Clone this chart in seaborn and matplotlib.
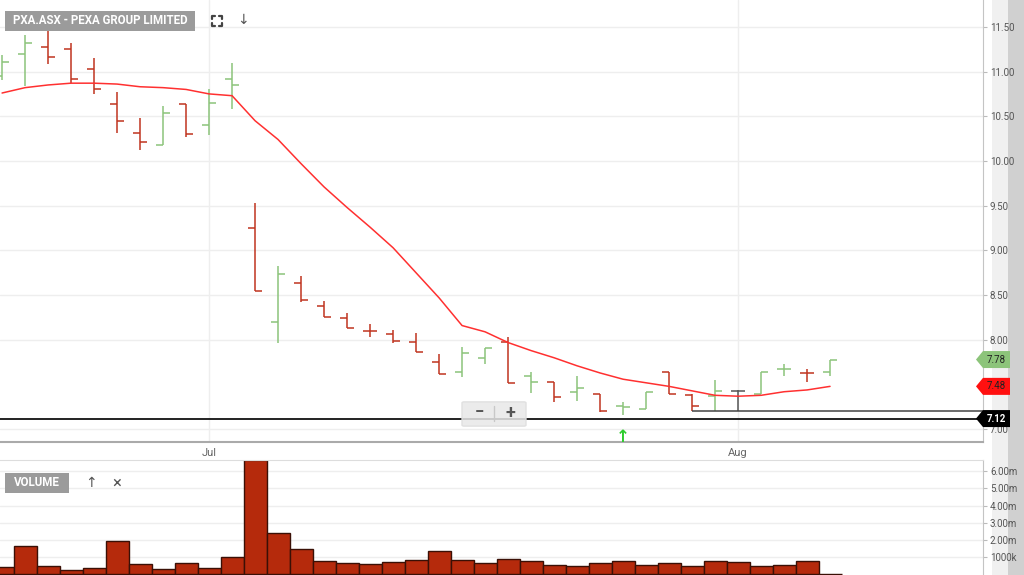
import matplotlib
matplotlib.use('Agg')
import matplotlib.pyplot as plt
import pandas as pd
import seaborn as sns
from matplotlib.patches import Polygon, FancyBboxPatch
from matplotlib.transforms import blended_transform_factory

# daily bars, 18 Jun 2024 .. 7 Aug 2024
dates = pd.bdate_range('2024-06-18', periods=37)
opens = [10.95, 11.20, 11.28, 11.25, 11.03, 10.64, 10.31, 10.18, 10.64, 10.40,
         10.92, 9.25, 8.20, 8.64, 8.38, 8.25, 8.10, 8.07, 7.98, 7.75,
         7.64, 7.80, 7.98, 7.60, 7.53, 7.42, 7.39, 7.26, 7.23, 7.64,
         7.38, 7.37, 7.43, 7.39, 7.67, 7.63, 7.64]
highs = [11.19, 11.41, 11.50, 11.32, 11.15, 10.77, 10.48, 10.62, 10.64, 10.80,
         11.10, 9.53, 8.83, 8.71, 8.44, 8.30, 8.18, 8.11, 8.08, 7.84,
         7.92, 7.91, 8.03, 7.64, 7.53, 7.60, 7.39, 7.31, 7.42, 7.64,
         7.39, 7.55, 7.44, 7.64, 7.73, 7.67, 7.78]
lows = [10.91, 10.84, 11.09, 10.87, 10.75, 10.31, 10.12, 10.18, 10.27, 10.29,
        10.58, 8.55, 7.97, 8.42, 8.26, 8.13, 8.03, 7.97, 7.86, 7.62,
        7.59, 7.73, 7.52, 7.41, 7.31, 7.32, 7.19, 7.16, 7.23, 7.39,
        7.20, 7.20, 7.20, 7.39, 7.60, 7.53, 7.60]
closes = [11.11, 11.32, 11.16, 10.92, 10.81, 10.45, 10.21, 10.54, 10.30, 10.65,
          10.85, 8.55, 8.74, 8.45, 8.26, 8.13, 8.10, 7.99, 7.86, 7.62,
          7.85, 7.91, 7.52, 7.53, 7.36, 7.46, 7.20, 7.25, 7.42, 7.39,
          7.26, 7.43, 7.43, 7.64, 7.67, 7.63, 7.78]
sma = [10.76, 10.82, 10.85, 10.87, 10.87, 10.86, 10.83, 10.82, 10.80, 10.75,
       10.73, 10.45, 10.24, 9.97, 9.71, 9.48, 9.26, 9.03, 8.75, 8.47,
       8.16, 8.09, 7.97, 7.88, 7.80, 7.71, 7.63, 7.56, 7.52, 7.48,
       7.43, 7.38, 7.37, 7.38, 7.42, 7.44, 7.48]
volume_m = [0.43, 1.65, 0.49, 0.26, 0.37, 1.94, 0.61, 0.32, 0.66, 0.37,
            1.01, 6.62, 2.40, 1.47, 0.78, 0.66, 0.61, 0.72, 0.84, 1.36,
            0.84, 0.66, 0.90, 0.78, 0.55, 0.49, 0.66, 0.78, 0.55, 0.66,
            0.49, 0.78, 0.72, 0.49, 0.55, 0.78, 0.03]

price_ticks = [7.0, 8.0, 8.5, 9.0, 9.5, 10.0, 10.5, 11.0, 11.5]
vol_ticks = [1, 2, 3, 4, 5, 6]
vol_labels = ['1000k', '2.00m', '3.00m', '4.00m', '5.00m', '6.00m']
month_labels = ['Jul', 'Aug']
hline_level = 7.12
support_level = 7.20
support_start = 30
signal_bar = 27

W, H = 1024, 575
GREEN = '#8cc47a'
RED = '#c0341f'
GREY = '#555555'

sns.set_style('white')
plt.rcParams['font.family'] = ['Roboto', 'DejaVu Sans']

df = pd.DataFrame({'date': dates, 'open': opens, 'high': highs, 'low': lows,
                   'close': closes, 'sma': sma, 'volume': volume_m})
df['i'] = range(len(df))
prev = [opens[0]] + closes[:-1]
colors = [GREEN if c > p else (RED if c < p else GREY) for c, p in zip(closes, prev)]
month_pos = [df.index[(df.date.dt.month == m)][0] for m in (7, 8)]


def fx(px):
    return px / W


def fy(py):
    return 1 - py / H


fig = plt.figure(figsize=(W / 100, H / 100), dpi=100)
fig.patch.set_facecolor('white')

# grey shade at the right edge
bg = fig.add_axes([fx(992), 0, fx(W - 992), 1], zorder=-5)
bg.imshow([[0, 1]], cmap=sns.light_palette('#d0d0d0', as_cmap=True), aspect='auto',
          extent=[0, 1, 0, 1])
bg.axis('off')

ax = fig.add_axes([0, fy(442), fx(983), 442 / H])
axv = fig.add_axes([0, 0, fx(983), 115 / H])
xlim = (-0.09, 42.65)

# price panel
ax.vlines(df.i, df.low, df.high, colors=colors, lw=1.1)
ax.hlines(df.open, df.i - 0.3, df.i, colors=colors, lw=1.1)
ax.hlines(df.close, df.i, df.i + 0.3, colors=colors, lw=1.1)
sns.lineplot(data=df, x='i', y='sma', color='#ff3030', lw=1.1, ax=ax)
ax.axhline(hline_level, color='#222222', lw=1.4)
ax.hlines(support_level, support_start, xlim[1], color='#444444', lw=1.1)
ax.set_xlim(*xlim)
ax.set_ylim(6.858, 11.80)
ax.set_yticks(price_ticks)
ax.set_yticklabels([f'{t:.2f}' for t in price_ticks])
ax.yaxis.tick_right()
ax.set_xticks(month_pos)
ax.set_xticklabels(month_labels)
ax.tick_params(axis='y', length=3, color='#bbbbbb', labelsize=7, labelcolor='#555555', pad=2)
ax.tick_params(axis='x', direction='in', length=3, color='#999999', labelsize=8,
               labelcolor='#666666', pad=4)
ax.grid(True, color='#eeeeee', lw=1)
ax.set_xlabel('')
ax.set_ylabel('')
for s in ('top', 'left'):
    ax.spines[s].set_visible(False)
ax.spines['right'].set_color('#c4c4c4')
ax.spines['bottom'].set_color('#aaaaaa')
ax.spines['bottom'].set_linewidth(1.5)

# price tags on the right axis
tr = blended_transform_factory(ax.transAxes, ax.transData)
hh = 8.5 / 89.4
for val, fc, tc, bold in [(closes[-1], GREEN, '#222222', False),
                          (sma[-1], '#ff1010', '#222222', False),
                          (hline_level, '#000000', 'white', True)]:
    x0, x1, x2 = 976 / 983, 983 / 983, 1010 / 983
    pts = [(x0, val), (x1, val + hh), (x2, val + hh), (x2, val - hh), (x1, val - hh)]
    ax.add_patch(Polygon(pts, closed=True, transform=tr, fc=fc, ec='none',
                         clip_on=False, zorder=5))
    ax.text(996 / 983, val, f'{val:.2f}', transform=tr, ha='center', va='center',
            fontsize=7, color=tc, fontweight='bold' if bold else 'normal',
            clip_on=False, zorder=6)

# volume panel
sns.barplot(data=df, x='i', y='volume', native_scale=True, width=1.0, color='#b52a0c',
            saturation=1, edgecolor='#3a1006', linewidth=1, ax=axv)
axv.set_xlim(*xlim)
axv.set_ylim(-0.03, 6.64)
axv.set_yticks(vol_ticks)
axv.set_yticklabels(vol_labels)
axv.yaxis.tick_right()
axv.set_xticks([])
axv.tick_params(axis='y', length=3, color='#bbbbbb', labelsize=7, labelcolor='#555555', pad=2)
axv.grid(True, axis='y', color='#eeeeee', lw=1)
axv.set_xlabel('')
axv.set_ylabel('')
for s in ('left', 'bottom'):
    axv.spines[s].set_visible(False)
axv.spines['right'].set_color('#c4c4c4')
axv.spines['top'].set_color('#dddddd')


def tag(x0, y0, w, h, text):
    fig.patches.append(FancyBboxPatch((fx(x0), fy(y0 + h)), fx(w), h / H,
                                      boxstyle='square,pad=0', transform=fig.transFigure,
                                      fc='#9b9b9b', ec='none', zorder=10))
    fig.text(fx(x0 + w / 2), fy(y0 + h / 2), text, ha='center', va='center',
             color='white', fontsize=8.3, fontweight='bold', zorder=11)


tag(5, 11, 190, 20, 'PXA.ASX - PEXA GROUP LIMITED')
tag(5, 473, 64, 20, 'VOLUME')

# full-screen corners icon
for cx, cy, dx, dy in [(212, 16, 1, 1), (222, 16, -1, 1), (212, 26, 1, -1), (222, 26, -1, -1)]:
    fig.add_artist(plt.Line2D([fx(cx), fx(cx), fx(cx + 3 * dx)],
                              [fy(cy + 3 * dy), fy(cy), fy(cy)],
                              transform=fig.transFigure, color='#444444', lw=1.6))
fig.text(fx(243), fy(20), '↓', ha='center', va='center', fontsize=10, color='#555555')
fig.text(fx(91), fy(483), '↑', ha='center', va='center', fontsize=10, color='#555555')
fig.text(fx(117), fy(483), '×', ha='center', va='center', fontsize=12, color='#555555')

# zoom control
fig.patches.append(FancyBboxPatch((fx(464), fy(425)), fx(60), 22 / H,
                                  boxstyle='round,pad=0.002', transform=fig.transFigure,
                                  fc='#e8e8e8', ec='#dddddd', alpha=0.85, zorder=10))
fig.add_artist(plt.Line2D([fx(494), fx(494)], [fy(406), fy(421)],
                          transform=fig.transFigure, color='#c8c8c8', lw=1, zorder=11))
fig.text(fx(479), fy(413), '−', ha='center', va='center', fontsize=12,
         fontweight='bold', color='#555555', zorder=11)
fig.text(fx(510), fy(413), '+', ha='center', va='center', fontsize=13,
         fontweight='bold', color='#555555', zorder=11)

# signal arrow under the bar
ax.text(signal_bar, 6.91, '↑', ha='center', va='center', fontsize=12,
        fontweight='bold', color='#2ecc2e', family='DejaVu Sans', clip_on=False)

fig.savefig('out.png', dpi=100)
